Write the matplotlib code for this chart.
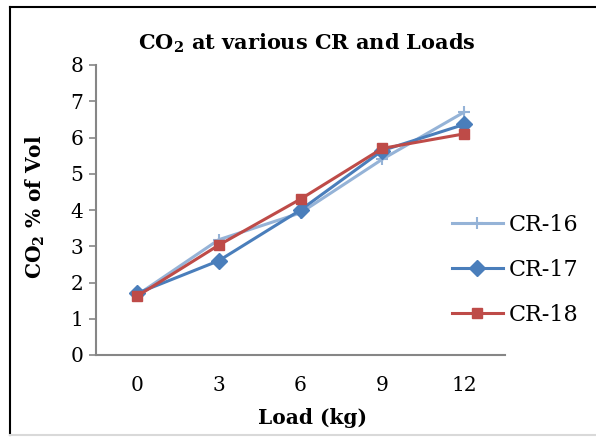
import matplotlib
matplotlib.use("Agg")
import matplotlib.pyplot as plt
from matplotlib.lines import Line2D

plt.rcParams['font.family'] = ['DejaVu Serif']
plt.rcParams['mathtext.fontset'] = 'custom'
plt.rcParams['mathtext.rm'] = 'DejaVu Serif'
plt.rcParams['mathtext.bf'] = 'DejaVu Serif:bold'

loads = ['0', '3', '6', '9', '12']
cr16 = [1.65, 3.18, 3.92, 5.40, 6.70]
cr17 = [1.70, 2.60, 4.00, 5.64, 6.36]
cr18 = [1.62, 3.03, 4.30, 5.70, 6.10]
series_names = ['CR-16', 'CR-17', 'CR-18']
yticks = [0, 1, 2, 3, 4, 5, 6, 7, 8]

W, H = 596, 437
fig = plt.figure(figsize=(W / 100, H / 100), dpi=100)

def fx(px):
    return px / W

def fy(py):
    return 1 - py / H

ax = fig.add_axes([fx(96), fy(355), fx(505) - fx(96), fy(65) - fy(355)])

x = list(range(len(loads)))
ax.plot(x, cr16, color='#95B3D7', lw=2.2, marker='+', ms=9, mew=1.5, label=series_names[0], zorder=3)
ax.plot(x, cr17, color='#4A7EBB', lw=2.2, marker='D', ms=8, label=series_names[1], zorder=4)
ax.plot(x, cr18, color='#BE4B48', lw=2.2, marker='s', ms=7, label=series_names[2], zorder=5)

ax.set_xlim(-0.5, len(loads) - 0.5)
ax.set_ylim(0, 8)
ax.set_yticks(yticks)
ax.set_xticks(x)
ax.set_xticklabels(loads)
for s in ['top', 'right']:
    ax.spines[s].set_visible(False)
for s in ['left', 'bottom']:
    ax.spines[s].set_color('#868686')
    ax.spines[s].set_linewidth(1.5)
ax.tick_params(axis='y', direction='out', length=5, width=1.2, color='#868686', labelsize=14.5, pad=4)
ax.tick_params(axis='x', length=0, labelsize=14.5, pad=15)

ax.set_xlabel('Load (kg)', fontsize=14.5, fontweight='bold')
ax.set_ylabel(r'CO$_\mathbf{2}$ % of Vol', fontsize=14.5, fontweight='bold')
# position axis titles (in figure pixel terms) as in the reference
ax.xaxis.set_label_coords(fx(312), fy(418), transform=fig.transFigure)
ax.xaxis.label.set_va('center')
ax.yaxis.set_label_coords(fx(35), fy(207), transform=fig.transFigure)
ax.yaxis.label.set_va('center')
fig.text(fx(307), fy(43), r'CO$_\mathbf{2}$ at various CR and Loads', fontsize=15,
         fontweight='bold', ha='center', va='center')

leg = ax.legend(loc='upper left', bbox_to_anchor=(fx(443), fy(205)), bbox_transform=fig.transFigure,
                frameon=False, fontsize=16, handlelength=2.3, handletextpad=0.25, labelspacing=1.03,
                borderaxespad=0)

fig.add_artist(Line2D([fx(9.5), fx(9.5)], [fy(7), fy(435)], color='black', lw=1.5))
fig.add_artist(Line2D([fx(9.5), 1], [fy(7), fy(7)], color='black', lw=1.5))
fig.add_artist(Line2D([fx(9.5), 1], [fy(435), fy(435)], color='#d9d9d9', lw=1.5))

fig.savefig('out.png', dpi=100)
